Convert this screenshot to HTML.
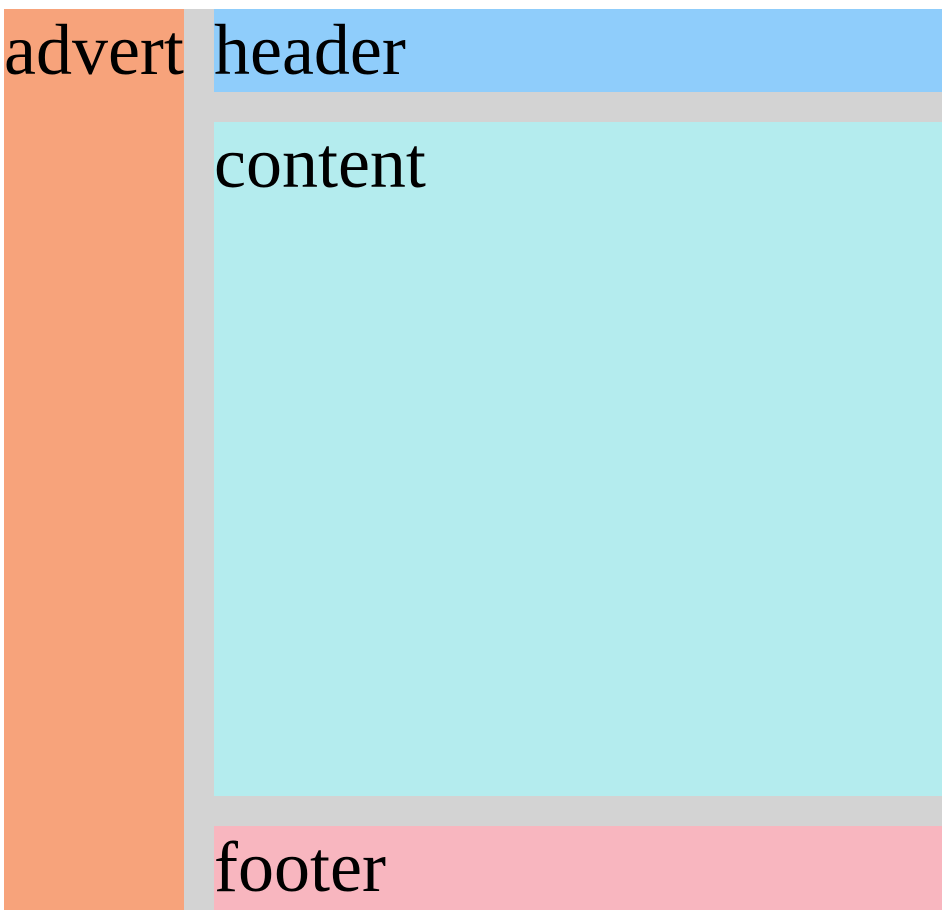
<!DOCTYPE html>
<html><head><style>
html,body{margin:0;padding:0;background:#fff;width:942px;height:910px;overflow:hidden}
div{position:absolute;font-family:"Liberation Serif",serif;font-size:72px;line-height:normal;color:#000;box-sizing:border-box}
</style></head><body>
<div style="left:4px;top:9px;width:938px;height:901px;background:#d3d3d3"></div>
<div style="left:4px;top:9px;width:180px;height:901px;background:#f7a37b">advert</div>
<div style="left:214px;top:9px;width:728px;height:83px;background:#8fcdfb">header</div>
<div style="left:214px;top:122px;width:728px;height:674px;background:#b4ecee">content</div>
<div style="left:214px;top:826px;width:728px;height:84px;background:#f8b6bf">footer</div>
</body></html>
